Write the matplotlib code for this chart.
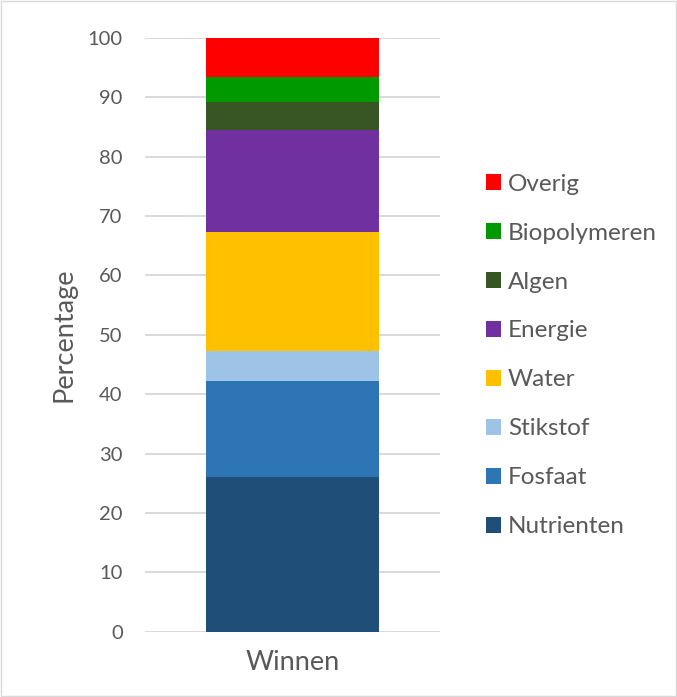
import matplotlib.pyplot as plt
from matplotlib.patches import Rectangle

# Stacked percentages (bottom to top)
categories = ["Winnen"]
series = ["Nutrienten", "Fosfaat", "Stikstof", "Water", "Energie", "Algen", "Biopolymeren", "Overig"]
values = [26.0, 16.2, 5.0, 20.1, 17.2, 4.8, 4.1, 6.6]
colors = ["#1f4e79", "#2e75b6", "#9dc3e6", "#ffc000", "#7030a0", "#375623", "#009900", "#ff0000"]

plt.rcParams['font.family'] = ['Lato', 'DejaVu Sans']
text_color = "#595959"

fig = plt.figure(figsize=(6.77, 6.97), dpi=100)
ax = fig.add_axes([0.214, 0.0937, 0.436, 0.8518])

bottom = 0
handles = []
for name, v, c in zip(series, values, colors):
    b = ax.bar(categories, [v], bottom=bottom, width=0.586, color=c, label=name, zorder=3)
    handles.append(b)
    bottom += v

ax.set_xlim(-0.5, 0.5)
ax.set_ylim(0, 100)
ax.set_yticks(range(0, 101, 10))
ax.grid(axis='y', color="#d9d9d9", linewidth=1.4, zorder=0)
for s in ax.spines.values():
    s.set_visible(False)
ax.tick_params(axis='both', length=0, colors=text_color, labelsize=14.5)
ax.tick_params(axis='y', pad=16)
ax.tick_params(axis='x', labelsize=19.5, pad=13)
ax.set_ylabel("Percentage", fontsize=19.5, color=text_color, labelpad=8)

leg = fig.legend(handles[::-1], series[::-1], loc='center left', bbox_to_anchor=(0.703, 0.49),
                 frameon=False, fontsize=17.5, handlelength=0.62, handleheight=0.62,
                 handletextpad=0.3, labelspacing=1.15, borderaxespad=0)
for t in leg.get_texts():
    t.set_color(text_color)

fig.patches.append(Rectangle((0.002, 0.002), 0.996, 0.996, transform=fig.transFigure,
                             fill=False, edgecolor="#d9d9d9", linewidth=1))

fig.savefig("out.png", dpi=100)
